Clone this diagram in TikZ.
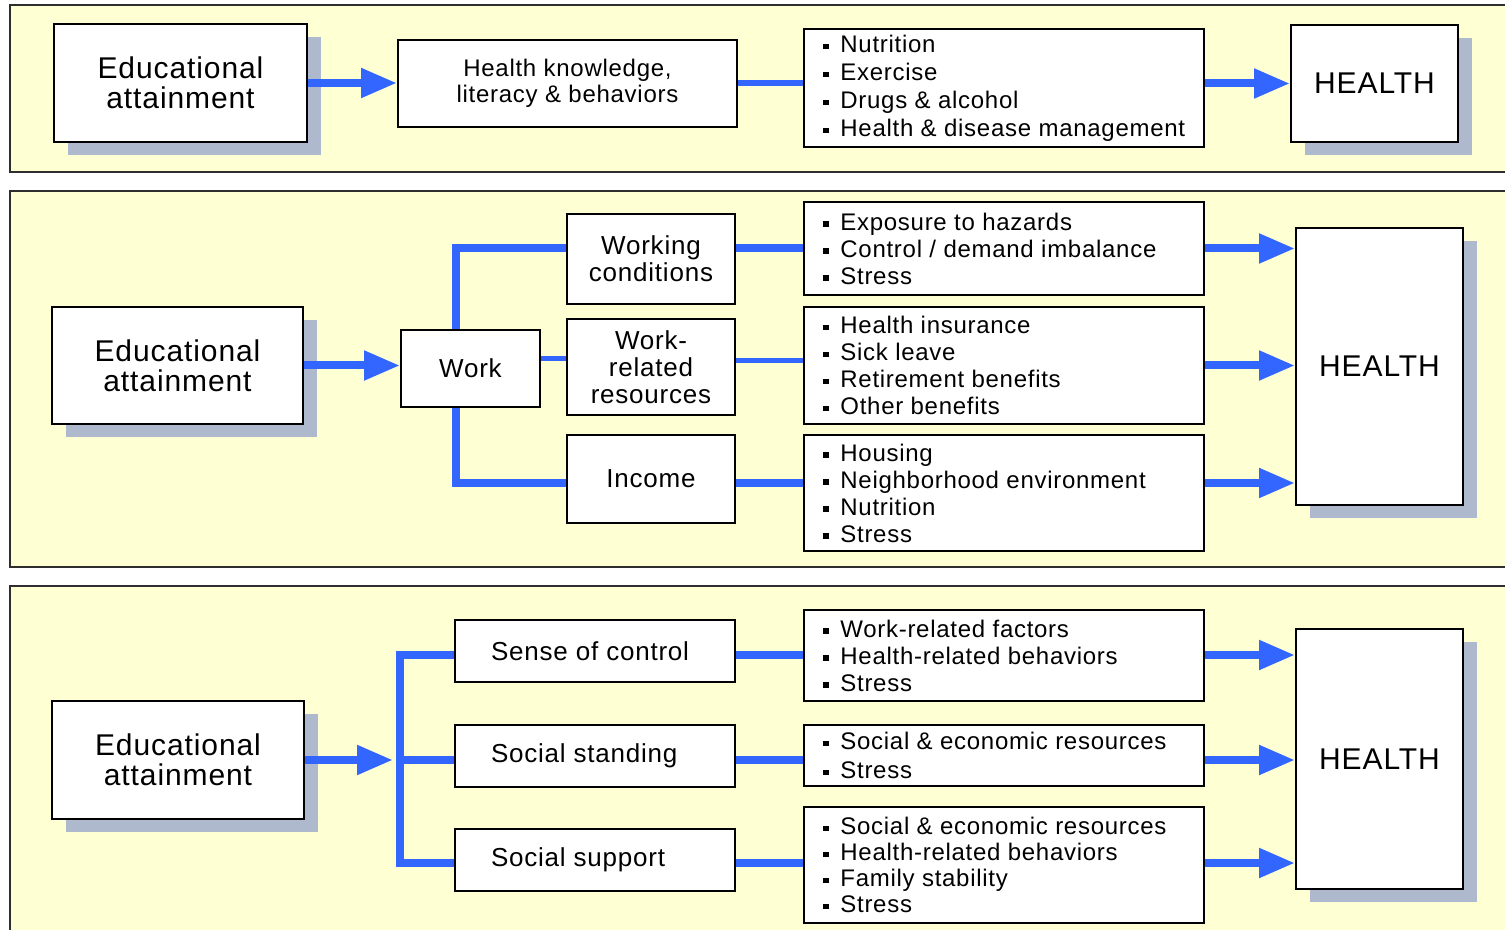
\documentclass[tikz,border=0pt]{standalone}
\usepackage{fontspec}
\setmainfont{Liberation Sans}[LetterSpace=3]
\usetikzlibrary{arrows.meta,shadows}
\definecolor{bgY}{HTML}{FFFFD4}
\definecolor{flowB}{HTML}{3366FF}
\definecolor{shadowC}{HTML}{AEB9CE}
\definecolor{frameC}{HTML}{2E2E2E}
\newcommand\bul{\makebox[8.5pt][l]{\rule[1.7pt]{2.6pt}{2.6pt}}}
\newcommand\bi[1]{\mbox{\bul#1}}
\tikzset{
 panel/.style={fill=bgY, draw=frameC, line width=1pt},
 box/.style={draw=black, line width=1pt, fill=white, inner sep=0pt, align=center},
 shbox/.style={box, drop shadow={shadow xshift=7pt, shadow yshift=-6.5pt, fill=shadowC, opacity=1}},
 edufont/.style={font=\fontsize{15}{15}\selectfont},
 hfont/.style={font=\fontsize{15}{15}\selectfont},
 midfont/.style={font=\fontsize{13}{13.5}\selectfont},
 btxt/.style={align=left, inner sep=0pt, anchor=west, font=\fontsize{12}{13.5}\selectfont},
 flow/.style={draw=flowB, line width=4pt},
 thinflow/.style={draw=flowB, line width=2.5pt},
 arr/.style={flow, -{Triangle[length=18pt,width=14pt]}},
}
\begin{document}
\begin{tikzpicture}[x=0.5pt,y=-0.5pt]
\useasboundingbox (0,0) rectangle (1505,930);
% panels
\draw[panel] (10,5) rectangle (1525,172);
\draw[panel] (10,191) rectangle (1525,567);
\draw[panel] (10,586) rectangle (1525,945);

% ---------- panel 1 ----------
\node[shbox, edufont, minimum width=126.5pt, minimum height=59pt] (edu1) at (180.5,83) {Educational\\attainment};
\node[box, font=\fontsize{12}{13}\selectfont, minimum width=169.5pt, minimum height=43.5pt] (hk1) at (567.5,83.5) {Health knowledge,\\literacy \& behaviors};
\node[box, minimum width=200pt, minimum height=59pt] (bl1) at (1004,88) {};
\node[btxt, font=\fontsize{12}{14}\selectfont] (bl1t) at ([xshift=10pt]bl1.west) {\bi{Nutrition}\\\bi{Exercise}\\\bi{Drugs \& alcohol}\\\bi{Health \& disease management}};
\node[shbox, hfont, minimum width=83.5pt, minimum height=58.5pt] (h1) at (1374.5,83.5) {HEALTH};

\draw[arr] (edu1.east) -- (edu1.east -| hk1.west);
\draw[draw=flowB, line width=3pt] (hk1.east) -- (hk1.east -| bl1.west);
\draw[arr] (bl1.east |- h1.west) -- (h1.west);

% ---------- panel 2 ----------
\node[shbox, edufont, minimum width=125.5pt, minimum height=58.5pt] (edu2) at (177.5,365.5) {Educational\\attainment};
\node[box, midfont, minimum width=69.5pt, minimum height=38.5pt] (work) at (470.5,368.5) {Work};
\node[box, midfont, minimum width=84pt, minimum height=45pt] (wc) at (651,259) {Working\\conditions};
\node[box, midfont, minimum width=84pt, minimum height=48pt] (wrr) at (651,367) {Work-\\related\\resources};
\node[box, midfont, minimum width=84pt, minimum height=44pt] (inc) at (651,479) {Income};
\node[box, minimum width=200pt, minimum height=46.5pt] (b1) at (1004,248.5) {};
\node[box, minimum width=200pt, minimum height=58.5pt] (b2) at (1004,365.5) {};
\node[box, minimum width=200pt, minimum height=58pt] (b3) at (1004,493) {};
\node[btxt] (b1t) at ([xshift=10pt]b1.west) {\bi{Exposure to hazards}\\\bi{Control / demand imbalance}\\\bi{Stress}};
\node[btxt] (b2t) at ([xshift=10pt]b2.west) {\bi{Health insurance}\\\bi{Sick leave}\\\bi{Retirement benefits}\\\bi{Other benefits}};
\node[btxt] (b3t) at ([xshift=10pt]b3.west) {\bi{Housing}\\\bi{Neighborhood environment}\\\bi{Nutrition}\\\bi{Stress}};
\node[shbox, hfont, minimum width=83.5pt, minimum height=138.5pt] (h2) at (1379.5,366.5) {HEALTH};

\coordinate (yinc) at (0,483);
\draw[arr] (edu2.east) -- (edu2.east -| work.west);
\draw[flow] ([xshift=-7.25pt]work.north) |- (wc.west |- b1.west);
\draw[flow] ([xshift=-7.25pt]work.south) |- (inc.west |- yinc);
\draw[thinflow] ([yshift=5pt]work.east) -- ([yshift=5pt]work.east -| wrr.west);
\draw[flow] (wc.east |- b1.west) -- (b1.west);
\draw[thinflow] ([yshift=3pt]wrr.east) -- ([yshift=3pt]wrr.east -| b2.west);
\draw[flow] (inc.east |- yinc) -- (b3.west |- yinc);
\draw[arr] (b1.east) -- (b1.east -| h2.west);
\draw[arr] (b2.east) -- (b2.east -| h2.west);
\draw[arr] (b3.east |- yinc) -- (h2.west |- yinc);

% ---------- panel 3 ----------
\node[shbox, edufont, minimum width=126pt, minimum height=59pt] (edu3) at (178,760) {Educational\\attainment};
\node[box, midfont, minimum width=140pt, minimum height=31pt] (soc) at (595,651) {\makebox[104pt][l]{Sense of control}};
\node[box, midfont, minimum width=140pt, minimum height=31pt] (ss) at (595,756) {\makebox[104pt][l]{Social standing}};
\node[box, midfont, minimum width=140pt, minimum height=31pt] (sup) at (595,860) {\makebox[104pt][l]{Social support}};
\node[box, minimum width=200pt, minimum height=45.5pt] (c1) at (1004,655.5) {};
\node[box, minimum width=200pt, minimum height=30.5pt] (c2) at (1004,755.5) {};
\node[box, minimum width=200pt, minimum height=58pt] (c3) at (1004,865) {};
\node[btxt] (c1t) at ([xshift=10pt]c1.west) {\bi{Work-related factors}\\\bi{Health-related behaviors}\\\bi{Stress}};
\node[btxt, font=\fontsize{12}{14.5}\selectfont] (c2t) at ([xshift=10pt]c2.west) {\bi{Social \& economic resources}\\\bi{Stress}};
\node[btxt, font=\fontsize{12}{13}\selectfont] (c3t) at ([xshift=10pt]c3.west) {\bi{Social \& economic resources}\\\bi{Health-related behaviors}\\\bi{Family stability}\\\bi{Stress}};
\node[shbox, hfont, minimum width=83.5pt, minimum height=130pt] (h3) at (1379.5,759) {HEALTH};

\coordinate (btop) at (400,655);
\coordinate (bmid) at (400,760);
\coordinate (bbot) at (400,863);
\draw[arr] (edu3.east) -- ([xshift=-3.5pt]bmid);
\draw[flow] (soc.west |- btop) -- (btop) -- (bbot) -- (sup.west |- bbot);
\draw[flow] (bmid) -- (ss.west |- bmid);
\draw[flow] (soc.east |- btop) -- (c1.west |- btop);
\draw[flow] (ss.east |- bmid) -- (c2.west |- bmid);
\draw[flow] (sup.east |- bbot) -- (c3.west |- bbot);
\draw[arr] (c1.east |- btop) -- (h3.west |- btop);
\draw[arr] (c2.east |- bmid) -- (h3.west |- bmid);
\draw[arr] (c3.east |- bbot) -- (h3.west |- bbot);
\end{tikzpicture}
\end{document}
